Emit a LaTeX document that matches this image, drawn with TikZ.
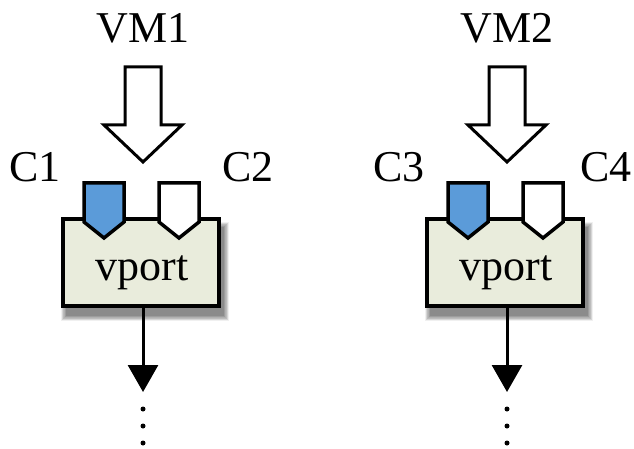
\documentclass[tikz,border=0pt]{standalone}
\usepackage{fontspec}
\setmainfont{Liberation Serif}
\usetikzlibrary{arrows.meta}
\definecolor{portfill}{HTML}{E9ECDC}
\definecolor{connblue}{HTML}{5B9BD9}
\tikzset{
  lbl/.style={font=\fontsize{44}{48}\selectfont, anchor=base, inner sep=0pt},
  portbox/.style={draw=black, line width=4pt, fill=portfill, minimum width=156pt,
    minimum height=87pt, inner sep=0pt},
  hollow/.style={draw=black, line width=3pt, fill=white, line join=miter},
  conn/.style={draw=black, line width=3.5pt, line join=miter},
  flow/.style={line width=3pt, -{Triangle[length=27pt,width=30pt]}},
  dotmark/.style={fill=black, circle, inner sep=0pt, minimum size=5pt}
}
\begin{document}
\begin{tikzpicture}[x=1pt,y=-1pt]
\useasboundingbox (0,0) rectangle (634,449);
\foreach \dx/\vm/\ca/\cb/\cx/\g in {0/VM1/C1/C2/248/a, 364/VM2/C3/C4/242/b}{
  \begin{scope}[xshift=\dx pt]
    % soft shadow under the vport box
    \foreach \k in {0,...,9}{
      \fill[black, opacity=0.06]
        ({63+4-6+0.6*\k},{219+9-6+0.6*\k}) rectangle ({219+4+6-0.6*\k},{306+9+6-0.6*\k});
    }
    \node[portbox] (box\g) at (141,262.5) {};
    \node[lbl] (vport\g) at (142,280) {vport};
    % attachment points C*
    \draw[conn, fill=connblue] (84,183) -- (124,183) -- (124,222) -- (104,238) -- (84,222) -- cycle;
    \draw[conn, fill=white] (159,183) -- (199,183) -- (199,222) -- (179,238) -- (159,222) -- cycle;
    % labels
    \node[lbl] (vm\g) at (143,43) {\vm};
    \node[lbl] (c1\g) at (35,182) {\ca};
    \node[lbl] (c2\g) at (\cx,182) {\cb};
    % block arrow from the VM into the port
    \draw[hollow] (125,67) -- (161,67) -- (161,125) -- (182,125) -- (143,162)
      -- (104,125) -- (125,125) -- cycle;
    % outgoing traffic
    \coordinate (out\g) at (143,392);
    \draw[flow] (box\g.south -| out\g) -- (out\g);
    \node[dotmark] (d1\g) at (143,409) {};
    \node[dotmark] (d2\g) at (143,426) {};
    \node[dotmark] (d3\g) at (143,443) {};
  \end{scope}
}
\end{tikzpicture}
\end{document}
